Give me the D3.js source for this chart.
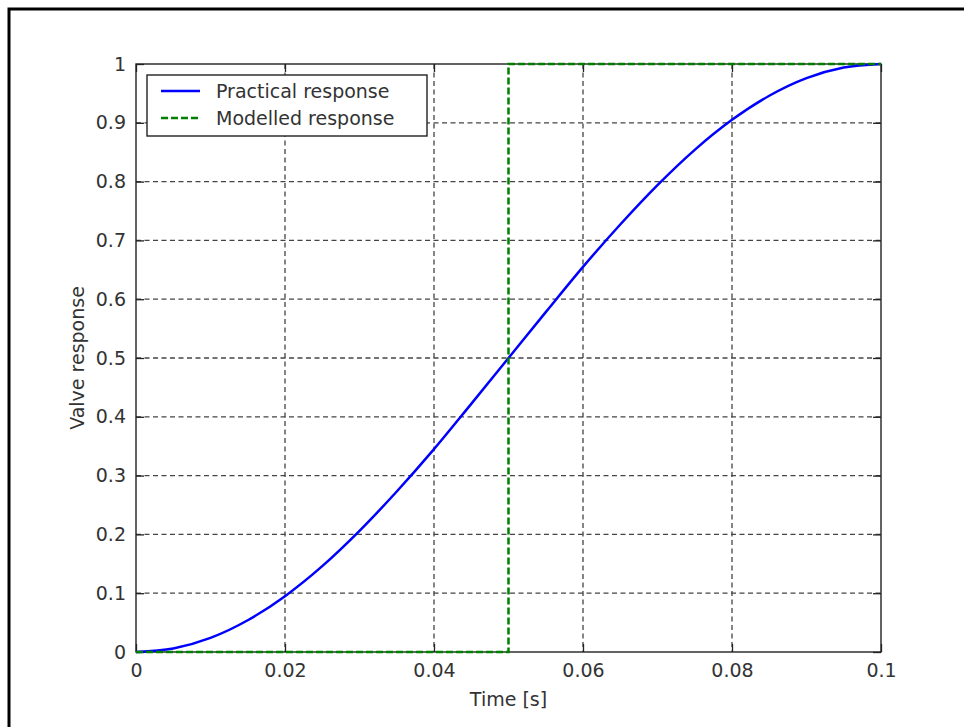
<!DOCTYPE html>
<html>
<head>
<meta charset="utf-8">
<script src="https://cdn.jsdelivr.net/npm/d3@7"></script>
<style>
  body { margin: 0; background: #fff; }
  text { font-family: "DejaVu Sans", sans-serif; fill: #333; }
</style>
</head>
<body>
<svg id="chart" width="964" height="727"></svg>
<script>
// practical response, sampled every 5 ms
var timeVals = [0, 0.005, 0.01, 0.015, 0.02, 0.025, 0.03, 0.035, 0.04, 0.045, 0.05,
                0.055, 0.06, 0.065, 0.07, 0.075, 0.08, 0.085, 0.09, 0.095, 0.1];
var practical = [0, 0.006, 0.024, 0.054, 0.095, 0.146, 0.206, 0.273, 0.345, 0.422, 0.5,
                 0.578, 0.655, 0.727, 0.794, 0.854, 0.905, 0.946, 0.976, 0.994, 1];
// modelled response: step at 50 ms
var modelT = [0, 0.05, 0.05, 0.1];
var modelV = [0, 0, 1, 1];

var xTicks = [0, 0.02, 0.04, 0.06, 0.08, 0.1];
var yTicks = [0, 0.1, 0.2, 0.3, 0.4, 0.5, 0.6, 0.7, 0.8, 0.9, 1];
var seriesNames = ["Practical response", "Modelled response"];

var svg = d3.select("#chart");
var pLeft = 136, pRight = 881, pTop = 64, pBottom = 652;

var x = d3.scaleLinear().domain([0, 0.1]).range([pLeft, pRight]);
var y = d3.scaleLinear().domain([0, 1]).range([pBottom, pTop]);

// outer frame
svg.append("rect")
  .attr("x", 9).attr("y", 9).attr("width", 980).attr("height", 740)
  .attr("fill", "none").attr("stroke", "#000").attr("stroke-width", 3);

// grid
var grid = svg.append("g");
grid.selectAll(".gx").data(xTicks.slice(1, -1)).enter().append("line")
  .attr("x1", d => x(d)).attr("x2", d => x(d))
  .attr("y1", pTop).attr("y2", pBottom)
  .attr("stroke", "#444").attr("stroke-width", 1.3).attr("stroke-dasharray", "5,3.5");
grid.selectAll(".gy").data(yTicks.slice(1, -1)).enter().append("line")
  .attr("y1", d => y(d)).attr("y2", d => y(d))
  .attr("x1", pLeft).attr("x2", pRight)
  .attr("stroke", "#444").attr("stroke-width", 1.3).attr("stroke-dasharray", "5,3.5");

// axes (ticks inside, on all four sides)
var tickLen = 8;
svg.append("g").attr("transform", "translate(0," + pBottom + ")")
  .call(d3.axisBottom(x).tickValues(xTicks).tickFormat(d3.format("~g"))
    .tickSizeInner(-tickLen).tickSizeOuter(0).tickPadding(12))
  .call(g => g.select(".domain").remove());
svg.append("g").attr("transform", "translate(0," + pTop + ")")
  .call(d3.axisTop(x).tickValues(xTicks).tickFormat("")
    .tickSizeInner(-tickLen).tickSizeOuter(0))
  .call(g => g.select(".domain").remove());
svg.append("g").attr("transform", "translate(" + pLeft + ",0)")
  .call(d3.axisLeft(y).tickValues(yTicks).tickFormat(d3.format("~g"))
    .tickSizeInner(-tickLen).tickSizeOuter(0).tickPadding(10))
  .call(g => g.select(".domain").remove());
svg.append("g").attr("transform", "translate(" + pRight + ",0)")
  .call(d3.axisRight(y).tickValues(yTicks).tickFormat("")
    .tickSizeInner(-tickLen).tickSizeOuter(0))
  .call(g => g.select(".domain").remove());

svg.selectAll(".tick line").attr("stroke", "#222").attr("stroke-width", 1.3);
svg.selectAll(".tick text").style("font-family", "DejaVu Sans, sans-serif")
  .style("font-size", "19px").attr("fill", "#333");

// box
svg.append("rect")
  .attr("x", pLeft).attr("y", pTop).attr("width", pRight - pLeft).attr("height", pBottom - pTop)
  .attr("fill", "none").attr("stroke", "#222").attr("stroke-width", 1.4);

// lines
var practicalLine = d3.line().x((d, i) => x(timeVals[i])).y(d => y(d))
  .curve(d3.curveMonotoneX);
svg.append("path").datum(practical)
  .attr("d", practicalLine)
  .attr("fill", "none").attr("stroke", "#0000ff").attr("stroke-width", 2.5);

var modelLine = d3.line().x((d, i) => x(modelT[i])).y(d => y(d));
svg.append("path").datum(modelV)
  .attr("d", modelLine)
  .attr("fill", "none").attr("stroke", "#008000").attr("stroke-width", 2.5)
  .attr("stroke-dasharray", "7,3");

// axis labels
svg.append("text").attr("x", (pLeft + pRight) / 2).attr("y", 706)
  .attr("text-anchor", "middle").style("font-size", "19px").text("Time [s]");
svg.append("text")
  .attr("transform", "translate(84," + ((pTop + pBottom) / 2) + ") rotate(-90)")
  .attr("text-anchor", "middle").style("font-size", "19px").text("Valve response");

// legend
var legend = svg.append("g");
legend.append("rect")
  .attr("x", 147).attr("y", 75).attr("width", 280).attr("height", 61)
  .attr("fill", "#fff").attr("stroke", "#222").attr("stroke-width", 1.4);
var legendStyles = [
  { color: "#0000ff", dash: null },
  { color: "#008000", dash: "7,3" }
];
seriesNames.forEach(function (name, i) {
  var ly = 91 + i * 27;
  legend.append("line")
    .attr("x1", 161).attr("x2", 200).attr("y1", ly).attr("y2", ly)
    .attr("stroke", legendStyles[i].color).attr("stroke-width", 2.5)
    .attr("stroke-dasharray", legendStyles[i].dash);
  legend.append("text").attr("x", 216).attr("y", ly + 7)
    .style("font-size", "19px").text(name);
});
</script>
</body>
</html>
